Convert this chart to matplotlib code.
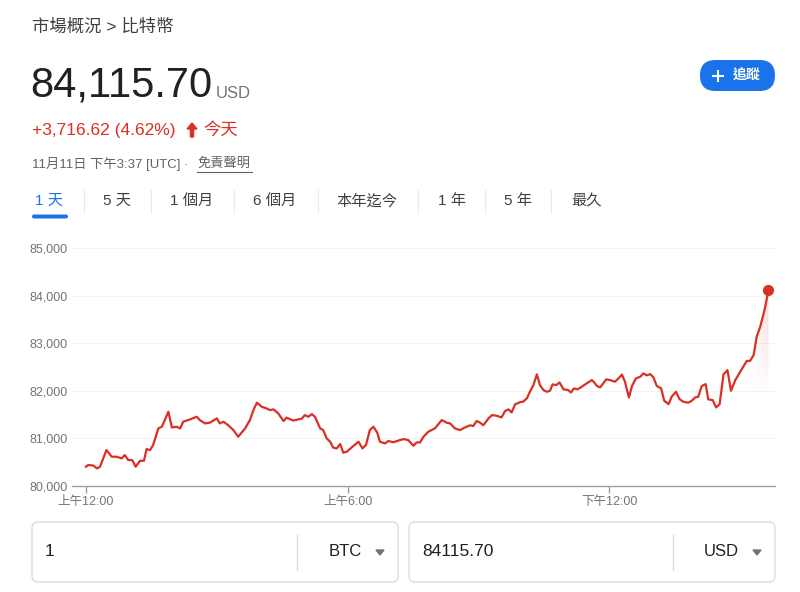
import numpy as np
import matplotlib
matplotlib.use("Agg")
import matplotlib.pyplot as plt
from matplotlib.patches import FancyBboxPatch, Polygon
from matplotlib.path import Path
from matplotlib.ticker import FuncFormatter

plt.rcParams['font.family'] = ['Liberation Sans', 'Noto Sans CJK TC', 'DejaVu Sans']

# hours since 上午12:00 (UTC), price in USD
hours = [0.00, 0.05, 0.17, 0.25, 0.32, 0.47, 0.59, 0.70, 0.82, 0.89, 0.97, 1.06, 1.14, 1.24,
         1.33, 1.39, 1.47, 1.54, 1.66, 1.74, 1.89, 1.97, 2.08, 2.16, 2.23, 2.39, 2.54, 2.61,
         2.73, 2.84, 3.00, 3.07, 3.15, 3.26, 3.38, 3.49, 3.65, 3.76, 3.84, 3.92, 4.03, 4.14,
         4.22, 4.30, 4.41, 4.53, 4.60, 4.75, 4.87, 4.95, 5.02, 5.10, 5.18, 5.25, 5.37, 5.44,
         5.52, 5.60, 5.67, 5.75, 5.83, 5.90, 5.98, 6.13, 6.25, 6.34, 6.42, 6.51, 6.59, 6.68,
         6.74, 6.86, 6.93, 7.05, 7.20, 7.28, 7.39, 7.51, 7.58, 7.66, 7.74, 7.85, 8.00, 8.16,
         8.27, 8.35, 8.46, 8.58, 8.69, 8.81, 8.88, 8.96, 9.04, 9.11, 9.23, 9.31, 9.42, 9.53,
         9.61, 9.69, 9.76, 9.84, 9.95, 10.03, 10.11, 10.18, 10.26, 10.34, 10.41, 10.49, 10.57,
         10.64, 10.70, 10.78, 10.86, 10.95, 11.06, 11.12, 11.19, 11.27, 11.37, 11.48, 11.60,
         11.64, 11.72, 11.79, 11.93, 12.02, 12.13, 12.21, 12.29, 12.36, 12.45, 12.52, 12.61,
         12.71, 12.78, 12.86, 12.94, 13.01, 13.09, 13.19, 13.26, 13.36, 13.43, 13.53, 13.61,
         13.70, 13.81, 13.89, 13.97, 14.04, 14.12, 14.21, 14.27, 14.37, 14.45, 14.53, 14.62,
         14.71, 14.79, 14.89, 14.98, 15.08, 15.15, 15.23, 15.31, 15.38, 15.46, 15.56, 15.65]
prices = [80405, 80440, 80430, 80370, 80400, 80755, 80615, 80615, 80580, 80650, 80545, 80545,
          80405, 80530, 80530, 80775, 80755, 80860, 81210, 81245, 81560, 81230, 81245, 81210,
          81350, 81400, 81455, 81385, 81315, 81330, 81420, 81315, 81350, 81280, 81175, 81035,
          81210, 81385, 81595, 81750, 81665, 81630, 81595, 81610, 81525, 81365, 81435, 81375,
          81400, 81415, 81490, 81455, 81510, 81455, 81210, 81175, 81000, 80930, 80805, 80790,
          80880, 80700, 80720, 80840, 80930, 80790, 80860, 81175, 81245, 81120, 80930, 80895,
          80945, 80920, 80965, 80985, 80965, 80845, 80915, 80915, 81035, 81140, 81210, 81385,
          81330, 81315, 81210, 81175, 81230, 81275, 81260, 81365, 81330, 81275, 81420, 81490,
          81475, 81440, 81575, 81610, 81545, 81715, 81760, 81775, 81840, 81980, 82120, 82345,
          82120, 82015, 81980, 82000, 82135, 82120, 82175, 82030, 82015, 81965, 82050, 82030,
          82085, 82155, 82225, 82190, 82100, 82070, 82240, 82225, 82190, 82260, 82340, 82190,
          81860, 82100, 82260, 82295, 82365, 82325, 82350, 82285, 82100, 82050, 81790, 81720,
          81875, 81980, 81825, 81770, 81750, 81790, 81860, 81875, 82100, 82140, 81820, 81805,
          81650, 81720, 82345, 82435, 82000, 82225, 82365, 82520, 82625, 82630, 82750, 83135,
          83345, 83695, 84115.70]

y_ticks = [80000, 81000, 82000, 83000, 84000, 85000]
x_ticks = [0, 6, 12]
x_labels = ['上午12:00', '上午6:00', '下午12:00']
tabs = ['1 天', '5 天', '1 個月', '6 個月', '本年迄今', '1 年', '5 年', '最久']

RED = '#d93025'
BLUE = '#1a73e8'
DARK = '#202124'
GRAY = '#70757a'

fig = plt.figure(figsize=(8, 5.92), dpi=100)

# page overlay in pixel coordinates
ui = fig.add_axes([0, 0, 1, 1])
ui.set_xlim(0, 800)
ui.set_ylim(592, 0)
ui.axis('off')

ui.text(32, 27, '市場概況 > 比特幣', fontsize=12.5, color='#3c4043', va='center')
ui.text(30, 85, '84,115.70', fontsize=30, color=DARK, va='center')
ui.text(216, 93, 'USD', fontsize=12, color=GRAY, va='center')
ui.text(32, 131, '+3,716.62 (4.62%)', fontsize=12.5, color=RED, va='center')
ui.add_patch(Polygon([[187, 129], [192, 123], [197, 129], [193.5, 129], [193.5, 137],
                      [190.5, 137], [190.5, 129]], closed=True, color=RED))
ui.text(203, 131, '今天', fontsize=12.5, color=RED, va='center')
ui.text(32, 164, '11月11日 下午3:37 [UTC] · ', fontsize=9.5, color='#5f6368', va='center')
ui.text(197, 164, '免責聲明', fontsize=9.5, color='#5f6368', va='center')
ui.plot([197, 252], [172, 172], color='#5f6368', lw=0.8)

# follow button
ui.add_patch(FancyBboxPatch((700, 60), 75, 31, boxstyle='round,pad=0,rounding_size=15.5',
                            fc=BLUE, ec='none'))
ui.plot([712, 724], [75.5, 75.5], color='white', lw=1.5, solid_capstyle='butt')
ui.plot([718, 718], [69.5, 81.5], color='white', lw=1.5, solid_capstyle='butt')
ui.text(733, 76, '追蹤', fontsize=10, color='white', va='center', fontweight='bold')

# range tabs
tab_x = [35, 103, 170, 253, 336, 438, 504, 571]
seps = [84, 151, 234, 318, 418, 485, 551]
for i, (lab, x) in enumerate(zip(tabs, tab_x)):
    ui.text(x, 201, lab, fontsize=11, color=BLUE if i == 0 else '#3c4043', va='center')
for s in seps:
    ui.plot([s, s], [190, 213], color='#e8eaed', lw=0.8)
ui.add_patch(FancyBboxPatch((32, 214.5), 36, 4, boxstyle='round,pad=0,rounding_size=2',
                            fc=BLUE, ec='none'))

# converter boxes
for bx, val, cur, dx in [(32, '1', 'BTC', 297), (409, '84115.70', 'USD', 673)]:
    ui.add_patch(FancyBboxPatch((bx, 522), 366, 60, boxstyle='round,pad=0,rounding_size=6',
                                fc='white', ec='#dadce0', lw=1))
    ui.plot([dx, dx], [535, 570], color='#dadce0', lw=1)
    ui.text(bx + 13, 552, val, fontsize=12.5, color=DARK, va='center')
    ui.text(bx + 330, 552, cur, fontsize=12, color=DARK, va='center', ha='right')
    tx = bx + 348
    ui.add_patch(Polygon([[tx - 4, 550], [tx + 4, 550], [tx, 555]], closed=True, color=GRAY))

# price chart
ax = fig.add_axes([72 / 800, 1 - 486 / 592, 703 / 800, 238 / 592])
ax.set_facecolor('none')
ax.set_xlim(-0.32, 15.8)
ax.set_ylim(80000, 85000)
for s in ['top', 'right', 'left']:
    ax.spines[s].set_visible(False)
ax.spines['bottom'].set_color('#9aa0a6')
ax.spines['bottom'].set_linewidth(1)
ax.set_yticks(y_ticks)
ax.yaxis.set_major_formatter(FuncFormatter(lambda v, p: f'{int(v):,}'))
ax.set_xticks(x_ticks)
ax.set_xticklabels(x_labels)
ax.tick_params(axis='y', length=0, pad=3, labelsize=9, labelcolor=GRAY)
ax.tick_params(axis='x', length=5, width=1, color='#9aa0a6', pad=2, labelsize=9, labelcolor=GRAY)
for v in y_ticks[1:]:
    ax.axhline(v, color='#f1f3f4', lw=0.8, zorder=0)

ax.plot(hours, prices, color=RED, lw=1.6, zorder=3, solid_joinstyle='round')
ax.plot(hours[-1], prices[-1], 'o', color=RED, ms=7, zorder=4)

# faint gradient under the final climb
x0 = 14.9
seg = [(h, p) for h, p in zip(hours, prices) if h >= x0]
verts = seg + [(hours[-1], 80000), (seg[0][0], 80000), seg[0]]
clip = Path(verts, [Path.MOVETO] + [Path.LINETO] * (len(verts) - 2) + [Path.CLOSEPOLY])
gx = np.linspace(0, 1, 120)[None, :] ** 2
gy = np.clip((np.linspace(1, 0, 120)[:, None] - 0.45) / 0.55, 0, 1)
img = np.zeros((120, 120, 4))
img[..., 0], img[..., 1], img[..., 2] = 0.85, 0.19, 0.15
img[..., 3] = 0.2 * gx * gy
im = ax.imshow(img, extent=(x0, hours[-1], 80000, prices[-1]), aspect='auto', origin='upper',
               zorder=2, interpolation='bilinear')
im.set_clip_path(clip, transform=ax.transData)

fig.savefig('out.png', dpi=100)
